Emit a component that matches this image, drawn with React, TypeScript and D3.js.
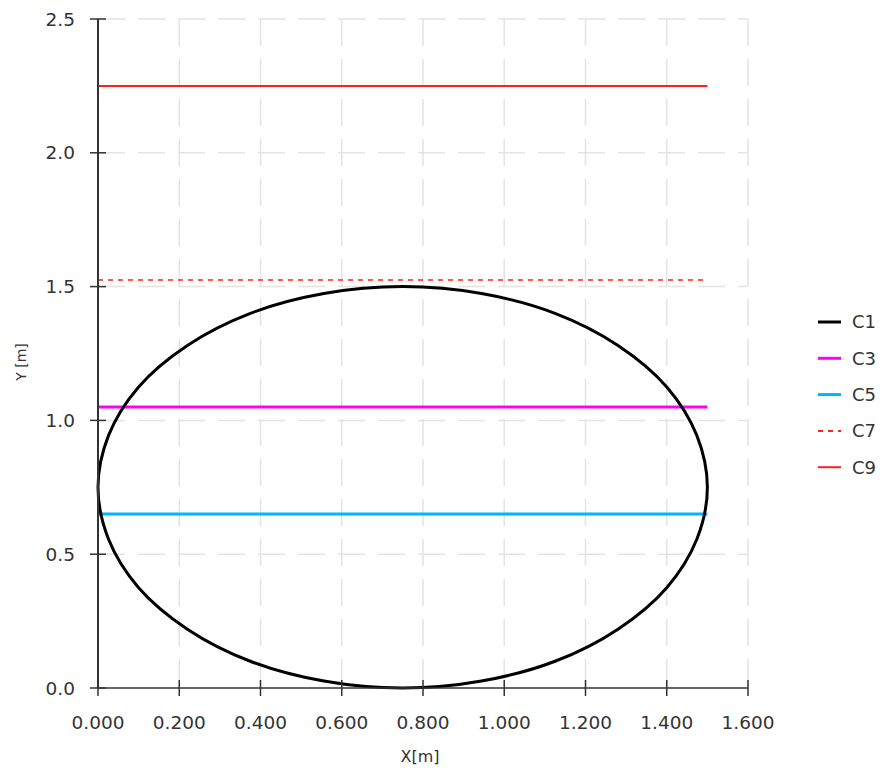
import React from "react";
import * as d3 from "d3";

// ---- data ----
const xTicks = [0, 0.2, 0.4, 0.6, 0.8, 1.0, 1.2, 1.4, 1.6];
const yTicks = [0, 0.5, 1.0, 1.5, 2.0, 2.5];

// C1: closed section outline
const c1X = [1.5, 1.474, 1.4, 1.28, 1.125, 0.944, 0.75, 0.556, 0.375, 0.22, 0.1, 0.026, 0.0, 0.026, 0.1, 0.22, 0.375, 0.556, 0.75, 0.944, 1.125, 1.28, 1.4, 1.474];
const c1Y = [0.75, 0.944, 1.125, 1.28, 1.4, 1.474, 1.5, 1.474, 1.4, 1.28, 1.125, 0.944, 0.75, 0.556, 0.375, 0.22, 0.1, 0.026, 0.0, 0.026, 0.1, 0.22, 0.375, 0.556];

// horizontal levels
const levelNames = ["C3", "C5", "C7", "C9"];
const levelY = [1.05, 0.65, 1.525, 2.25];
const levelX0 = [0, 0, 0, 0];
const levelX1 = [1.5, 1.5, 1.5, 1.5];

const legendNames = ["C1", "C3", "C5", "C7", "C9"];
const legendColors = ["#000000", "#ff00ff", "#00b4ff", "#ff2020", "#ff2020"];
const legendWidths = [3, 3, 3, 2, 2];
const legendDash = [null, null, null, "5,5", null];

const W = 882;
const H = 774;
const FONT = "'DejaVu Sans', sans-serif";

export default function App() {
  const x = d3.scaleLinear().domain([0, 1.6]).range([98, 748]);
  const y = d3.scaleLinear().domain([0, 2.5]).range([688, 19]);

  const pts: [number, number][] = c1X.map((v, i) => [v, c1Y[i]]);
  const outline = d3
    .line<[number, number]>()
    .x((d) => x(d[0]))
    .y((d) => y(d[1]))
    .curve(d3.curveCatmullRomClosed)(pts) as string;

  const levelStyle = [
    { color: "#ff00ff", w: 3, dash: undefined },
    { color: "#00b4ff", w: 3, dash: undefined },
    { color: "#ff2020", w: 1.5, dash: "5,5" },
    { color: "#ff2020", w: 2, dash: undefined },
  ];

  const gridColor = "#e4e4e4";
  const axisColor = "#333333";

  return (
    <svg
      width={W}
      height={H}
      style={{ position: "absolute", left: 0, top: 0, background: "#fff" }}
    >
      {/* grid */}
      <g>
        {xTicks.slice(1).map((t) => (
          <line
            key={"gx" + t}
            x1={x(t)}
            x2={x(t)}
            y1={y(2.5)}
            y2={y(0)}
            stroke={gridColor}
            strokeWidth={1.5}
            strokeDasharray="27,13"
          />
        ))}
        {yTicks.slice(1).map((t) => (
          <line
            key={"gy" + t}
            x1={x(0)}
            x2={x(1.6)}
            y1={y(t)}
            y2={y(t)}
            stroke={gridColor}
            strokeWidth={1.5}
            strokeDasharray="27,13"
          />
        ))}
      </g>

      {/* levels */}
      {levelNames.map((n, i) => (
        <line
          key={n}
          x1={x(levelX0[i])}
          x2={x(levelX1[i])}
          y1={y(levelY[i])}
          y2={y(levelY[i])}
          stroke={levelStyle[i].color}
          strokeWidth={levelStyle[i].w}
          strokeDasharray={levelStyle[i].dash}
        />
      ))}

      {/* C1 */}
      <path d={outline} fill="none" stroke="#000" strokeWidth={3} />

      {/* axes */}
      <line x1={x(0)} x2={x(0)} y1={y(2.5)} y2={y(0)} stroke={axisColor} strokeWidth={2} />
      <line x1={x(0)} x2={x(1.6)} y1={y(0)} y2={y(0)} stroke={axisColor} strokeWidth={1.5} />
      {yTicks.map((t) => (
        <g key={"ty" + t}>
          <line x1={x(0) - 8} x2={x(0) + 8} y1={y(t)} y2={y(t)} stroke={axisColor} strokeWidth={1.5} />
          <text
            x={75}
            y={y(t)}
            dy="0.36em"
            textAnchor="end"
            fontFamily={FONT}
            fontSize={18.5}
            fill="#333"
          >
            {d3.format(".1f")(t)}
          </text>
        </g>
      ))}
      {xTicks.map((t) => (
        <g key={"tx" + t}>
          <line x1={x(t)} x2={x(t)} y1={y(0) - 8} y2={y(0) + 8} stroke={axisColor} strokeWidth={1.5} />
          <text
            x={x(t)}
            y={722}
            dy="0.36em"
            textAnchor="middle"
            fontFamily={FONT}
            fontSize={18.5}
            fill="#333"
          >
            {d3.format(".3f")(t)}
          </text>
        </g>
      ))}

      {/* axis titles */}
      <text x={420} y={756} dy="0.36em" textAnchor="middle" fontFamily={FONT} fontSize={16} fill="#333">
        X[m]
      </text>
      <text
        transform="translate(21,362) rotate(-90)"
        textAnchor="middle"
        dy="0.36em"
        fontFamily={FONT}
        fontSize={14}
        fill="#333"
      >
        Y [m]
      </text>

      {/* legend */}
      {legendNames.map((n, i) => {
        const ly = 322 + i * 36.3;
        return (
          <g key={"lg" + n}>
            <line
              x1={818}
              x2={841}
              y1={ly}
              y2={ly}
              stroke={legendColors[i]}
              strokeWidth={legendWidths[i]}
              strokeDasharray={legendDash[i] ?? undefined}
            />
            <text x={852} y={ly} dy="0.36em" fontFamily={FONT} fontSize={18} fill="#333">
              {n}
            </text>
          </g>
        );
      })}
    </svg>
  );
}
